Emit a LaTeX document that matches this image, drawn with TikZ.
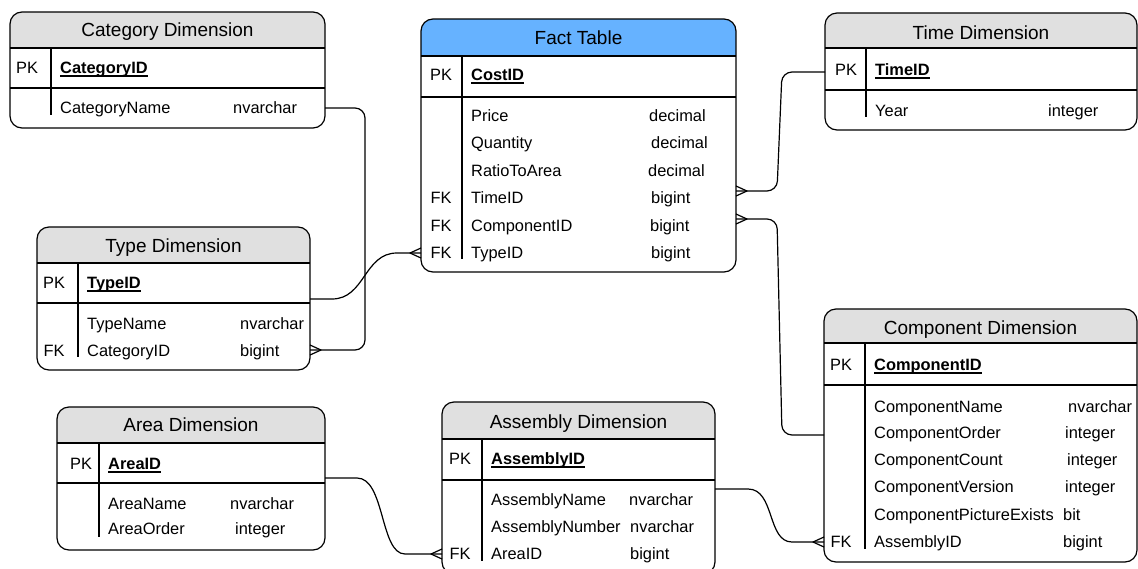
\documentclass[tikz,border=0pt]{standalone}
\usepackage{fontspec}
\setmainfont{Liberation Sans}
\usetikzlibrary{fit,calc}

\definecolor{hdrgray}{HTML}{E0E0E0}
\definecolor{hdrblue}{HTML}{66B2FF}

% bold, underlined primary-key column name
\newcommand\pkname[1]{\setbox0\hbox{\bfseries #1}\rlap{\rule[-2.9pt]{\wd0}{1.4pt}}\box0}

\tikzset{
  rule/.style={line width=1.2pt, black},
  link/.style={line width=1.2pt, black, line join=round},
  tframe/.style={inner sep=0pt, outer sep=0pt},
  ttitle/.style={font=\fontsize{19}{21}\selectfont, text height=13.6pt, text depth=0pt, inner sep=0pt, anchor=center},
  tcell/.style={font=\fontsize{16.4}{18}\selectfont, text height=11.7pt, text depth=0pt, inner sep=0pt, anchor=west},
  tkey/.style={tcell, anchor=center},
  crow/.pic={\draw[link] (0,-5) -- (11,0) -- (0,5);}
}

% table frame: name, x1, y1, x2, y2, header bottom, divider, key column line, header colour
\newcommand\erframe[9]{%
  \node[tframe, fit={(#2,#3) (#4,#5)}] (#1) {};
  \begin{scope}
    \clip[rounded corners=12pt] (#2,#3) rectangle (#4,#5);
    \fill[#9] (#2,#3) rectangle (#4,#6);
  \end{scope}
  \draw[rule] (#2,#6) -- (#4,#6) (#2,#7) -- (#4,#7);
  \draw[rule] (#8,#6) -- (#8,{#5-13});
  \draw[rule, rounded corners=12pt] (#1.north west) rectangle (#1.south east);
}

\begin{document}
\begin{tikzpicture}[x=1pt, y=-1pt]
\useasboundingbox (0,0) rectangle (1138,568);
\clip (0,0) rectangle (1138,568);

% ---------------- Category Dimension
\erframe{cat}{10}{12}{325}{128}{48}{88}{51}{hdrgray}
\node[ttitle] (cat-title) at (167.5,30) {Category Dimension};
\node[tkey]  (cat-k1) at (27,68) {PK};
\node[tcell] (cat-n1) at (60,68) {\pkname{CategoryID}};
\node[tcell] (cat-n2) at (60,108) {CategoryName};
\node[tcell] (cat-t2) at (233,108) {nvarchar};

% ---------------- Fact Table
\erframe{fact}{421}{19}{736}{272}{56}{97}{462}{hdrblue}
\node[ttitle] (fact-title) at (578.5,38) {Fact Table};
\node[tkey]  (fact-k1) at (441,75) {PK};
\node[tcell] (fact-n1) at (471,75) {\pkname{CostID}};
\node[tcell] (fact-n2) at (471,116) {Price};
\node[tcell] (fact-t2) at (649,116) {decimal};
\node[tcell] (fact-n3) at (471,143) {Quantity};
\node[tcell] (fact-t3) at (651,143) {decimal};
\node[tcell] (fact-n4) at (471,171) {RatioToArea};
\node[tcell] (fact-t4) at (648,171) {decimal};
\node[tkey]  (fact-k5) at (441,198) {FK};
\node[tcell] (fact-n5) at (471,198) {TimeID};
\node[tcell] (fact-t5) at (651,198) {bigint};
\node[tkey]  (fact-k6) at (441,226) {FK};
\node[tcell] (fact-n6) at (471,226) {ComponentID};
\node[tcell] (fact-t6) at (650,226) {bigint};
\node[tkey]  (fact-k7) at (441,253) {FK};
\node[tcell] (fact-n7) at (471,253) {TypeID};
\node[tcell] (fact-t7) at (651,253) {bigint};

% ---------------- Time Dimension
\erframe{time}{825}{13}{1137}{130}{48}{90}{866}{hdrgray}
\node[ttitle] (time-title) at (981,33) {Time Dimension};
\node[tkey]  (time-k1) at (846,70) {PK};
\node[tcell] (time-n1) at (875,70) {\pkname{TimeID}};
\node[tcell] (time-n2) at (875,111) {Year};
\node[tcell] (time-t2) at (1048,111) {integer};

% ---------------- Type Dimension
\erframe{type}{37}{227}{310}{370}{263}{303}{78}{hdrgray}
\node[ttitle] (type-title) at (173.5,246) {Type Dimension};
\node[tkey]  (type-k1) at (54,283) {PK};
\node[tcell] (type-n1) at (87,283) {\pkname{TypeID}};
\node[tcell] (type-n2) at (87,324) {TypeName};
\node[tcell] (type-t2) at (240,324) {nvarchar};
\node[tkey]  (type-k3) at (54,351) {FK};
\node[tcell] (type-n3) at (87,351) {CategoryID};
\node[tcell] (type-t3) at (240,351) {bigint};

% ---------------- Area Dimension
\erframe{area}{57}{407}{325}{550}{443}{483}{99}{hdrgray}
\node[ttitle] (area-title) at (191,425) {Area Dimension};
\node[tkey]  (area-k1) at (81,464) {PK};
\node[tcell] (area-n1) at (108,464) {\pkname{AreaID}};
\node[tcell] (area-n2) at (108,504) {AreaName};
\node[tcell] (area-t2) at (230,504) {nvarchar};
\node[tcell] (area-n3) at (108,529) {AreaOrder};
\node[tcell] (area-t3) at (235,529) {integer};

% ---------------- Assembly Dimension
\erframe{asm}{442}{402}{715}{574}{439}{480}{482}{hdrgray}
\node[ttitle] (asm-title) at (578.5,422) {Assembly Dimension};
\node[tkey]  (asm-k1) at (460,459) {PK};
\node[tcell] (asm-n1) at (491,459) {\pkname{AssemblyID}};
\node[tcell] (asm-n2) at (491,500) {AssemblyName};
\node[tcell] (asm-t2) at (629,500) {nvarchar};
\node[tcell] (asm-n3) at (491,527) {AssemblyNumber};
\node[tcell] (asm-t3) at (630,527) {nvarchar};
\node[tkey]  (asm-k4) at (460,554) {FK};
\node[tcell] (asm-n4) at (491,554) {AreaID};
\node[tcell] (asm-t4) at (630,554) {bigint};

% ---------------- Component Dimension
\erframe{comp}{824}{309}{1137}{562}{343}{385}{865}{hdrgray}
\node[ttitle] (comp-title) at (980.5,328) {Component Dimension};
\node[tkey]  (comp-k1) at (841,365) {PK};
\node[tcell] (comp-n1) at (874,365) {\pkname{ComponentID}};
\node[tcell] (comp-n2) at (874,407) {ComponentName};
\node[tcell] (comp-t2) at (1068,407) {nvarchar};
\node[tcell] (comp-n3) at (874,433) {ComponentOrder};
\node[tcell] (comp-t3) at (1065,433) {integer};
\node[tcell] (comp-n4) at (874,460) {ComponentCount};
\node[tcell] (comp-t4) at (1067,460) {integer};
\node[tcell] (comp-n5) at (874,487) {ComponentVersion};
\node[tcell] (comp-t5) at (1065,487) {integer};
\node[tcell] (comp-n6) at (874,515) {ComponentPictureExists};
\node[tcell] (comp-t6) at (1063,515) {bit};
\node[tkey]  (comp-k7) at (841,542) {FK};
\node[tcell] (comp-n7) at (874,542) {AssemblyID};
\node[tcell] (comp-t7) at (1063,542) {bigint};

% ---------------- attachment points on the table borders
\coordinate (cat-out)   at (cat.east |- cat-n2.west);
\coordinate (type-in)   at (type.east |- 0,350);
\coordinate (type-out)  at (type.east |- 0,299);
\coordinate (fact-in)   at (fact.west |- fact-n7.west);
\coordinate (time-out)  at (time.west |- 0,72);
\coordinate (fact-time) at (fact.east |- 0,191);
\coordinate (comp-out)  at (comp.west |- 0,435);
\coordinate (fact-comp) at (fact.east |- 0,219);
\coordinate (area-out)  at (area.east |- 0,478);
\coordinate (asm-in)    at (asm.west |- asm-n4.west);
\coordinate (asm-out)   at (asm.east |- 0,489);
\coordinate (comp-in)   at (comp.west |- comp-n7.west);

% ---------------- relationships
\draw[link, rounded corners=10pt] (cat-out) -- ++(40,0) |- (type-in);
\draw[link] (type-out) -- ++(22,0) .. controls +(33,0) and +(-33,0) .. ($(fact-in)+(-24,0)$) -- (fact-in);
\draw[link, rounded corners=10pt] (time-out) -- ++(-43,0) -- ($(fact-time)+(41,0)$) -- (fact-time);
\draw[link, rounded corners=10pt] (comp-out) -- ++(-42,0) -- ($(fact-comp)+(41,0)$) -- (fact-comp);
\draw[link] (area-out) -- ++(32,0) .. controls +(28,0) and +(-25,0) .. ($(asm-in)+(-37,0)$) -- (asm-in);
\draw[link] (asm-out) -- ++(33,0) .. controls +(27,0) and +(-25,0) .. ($(comp-in)+(-32,0)$) -- (comp-in);

% ---------------- "many" ends
\pic at (type-in) {crow};
\pic[xscale=-1] at (fact-in) {crow};
\pic at (fact-time) {crow};
\pic at (fact-comp) {crow};
\pic[xscale=-1] at (asm-in) {crow};
\pic[xscale=-1] at (comp-in) {crow};
\end{tikzpicture}
\end{document}
